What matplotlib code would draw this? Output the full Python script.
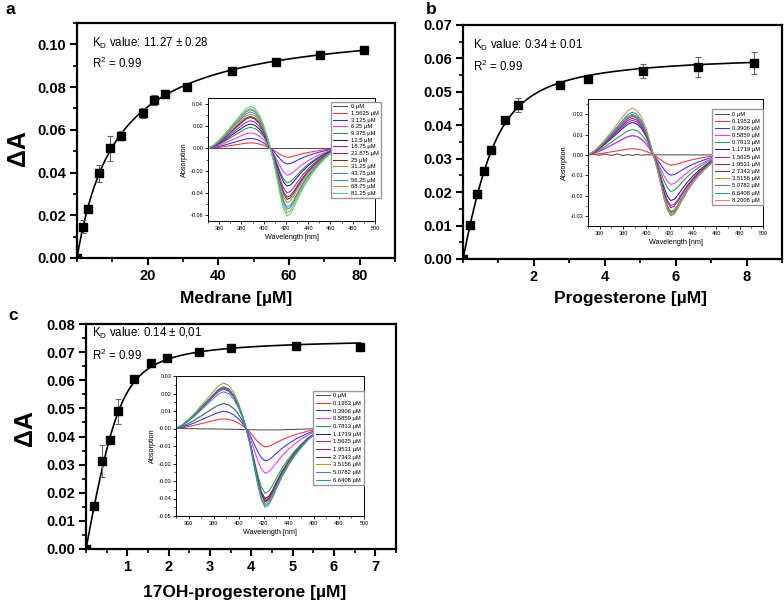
import numpy as np
import matplotlib
matplotlib.use('Agg')
import matplotlib.pyplot as plt
from matplotlib.ticker import MultipleLocator, FormatStrFormatter

plt.rcParams['font.family'] = ['Liberation Sans', 'DejaVu Sans']
plt.rcParams['mathtext.fontset'] = 'custom'
plt.rcParams['mathtext.rm'] = 'Liberation Sans'

W, H = 784, 606

# ---- titration data (delta A vs ligand) ----
conc_a = [0, 1.5625, 3.125, 6.25, 9.375, 12.5, 18.75, 21.875, 25, 31.25, 43.75, 56.25, 68.75, 81.25]
dA_a = [0.0, 0.0147, 0.0228, 0.0396, 0.0513, 0.0572, 0.0679, 0.0739, 0.0768, 0.0801, 0.0875, 0.0919, 0.0952, 0.0972]
err_a = [0, 0.003, 0.0012, 0.0038, 0.006, 0.0022, 0.0025, 0.0025, 0.0012, 0.001, 0.0008, 0.0012, 0.0008, 0.0008]

# spectra were taken at all concentrations, the titration plot skips 1.9531
conc_b = [0, 0.1953, 0.3906, 0.5859, 0.7813, 1.1719, 1.5625, 1.9531, 2.7343, 3.5156, 5.0782, 6.6408, 8.2008]
x_b = [0, 0.1953, 0.3906, 0.5859, 0.7813, 1.1719, 1.5625, 2.7343, 3.5156, 5.0782, 6.6408, 8.2008]
dA_b = [0.0, 0.0101, 0.0195, 0.0263, 0.0326, 0.0416, 0.0461, 0.0521, 0.0537, 0.0562, 0.0573, 0.0586]
err_b = [0, 0.0005, 0.001, 0.001, 0.001, 0.001, 0.002, 0.001, 0.0005, 0.002, 0.003, 0.0033]

conc_c = [0, 0.1953, 0.3906, 0.5859, 0.7813, 1.1719, 1.5625, 1.9531, 2.7343, 3.5156, 5.0782, 6.6408]
dA_c = [0.0, 0.0153, 0.0313, 0.0388, 0.0490, 0.0605, 0.0662, 0.0678, 0.0701, 0.0713, 0.0722, 0.0719]
err_c = [0, 0.0008, 0.0057, 0.0012, 0.0045, 0.001, 0.001, 0.0006, 0.0005, 0.0005, 0.0005, 0.0015]

# fit parameters (tight binding / Morrison)
kd_a, amax_a, enz_a = 11.27, 0.1107, 0.05
kd_b, amax_b, enz_b = 0.34, 0.0615, 0.8
kd_c, amax_c, enz_c = 0.14, 0.075, 0.8

# ---- difference spectra (insets) ----
WL = [350, 355, 360, 365, 370, 375, 380, 384, 388, 392, 396, 400, 403, 406, 409, 412, 415,
      418, 421, 424, 427, 430, 435, 440, 445, 450, 455, 460, 465, 470, 480, 490, 500]
SHAPE = [0, 0.08, 0.2, 0.34, 0.5, 0.66, 0.82, 0.94, 1.0, 0.95, 0.8, 0.55, 0.3, 0.0, -0.2, -0.45, -0.7,
         -0.9, -1.0, -0.97, -0.88, -0.77, -0.6, -0.46, -0.34, -0.24, -0.15, -0.08, -0.04, -0.02, -0.005, 0, 0]

peak_a = [0, 0.005, 0.009, 0.014, 0.019, 0.022, 0.025, 0.028, 0.029, 0.031, 0.033, 0.035, 0.036, 0.038]
trough_a = [0, -0.008, -0.014, -0.024, -0.031, -0.034, -0.040, -0.044, -0.046, -0.049, -0.053, -0.055, -0.058, -0.061]
base0_a = [0] * 33

peak_b = [0, 0.003, 0.0095, 0.0095, 0.0125, 0.016, 0.017, 0.018, 0.019, 0.0195, 0.020, 0.021, 0.023]
trough_b = [0, -0.005, -0.010, -0.0145, -0.018, -0.0225, -0.025, -0.026, -0.028, -0.0285, -0.030, -0.029, -0.0295]
base0_b = [0, 0.0003, -0.0002, 0.0004, -0.0003, 0.0005, -0.0004, 0.0002, -0.0003, 0.0003, -0.0002, 0.0001, 0,
           0, 0, 0, 0, 0, 0, 0, 0, 0, 0, 0, 0, 0, 0, 0, 0, 0, 0, 0, 0]

peak_c = [0, 0.0055, 0.0098, 0.0142, 0.0143, 0.0235, 0.0225, 0.0238, 0.0232, 0.026, 0.021, 0.0235]
trough_c = [0, -0.0105, -0.0185, -0.0255, -0.037, -0.040, -0.041, -0.042, -0.0415, -0.043, -0.044, -0.045]
base0_c = [0, 0, -0.0001, -0.0001, -0.0002, -0.0002, -0.0003, -0.0003, -0.0004, -0.0004, -0.0005, -0.0005,
           -0.0006, -0.0006, -0.0007, -0.0007, -0.0008, -0.0008, -0.0008, -0.0008, -0.0008, -0.0008, -0.0007,
           -0.0006, -0.0005, -0.0004, -0.0003, -0.0002, -0.0001, 0, 0, 0, 0]

COLORS = ['#505050', '#ff3030', '#3030ff', '#ff30ff', '#20a040', '#202090', '#a020e0', '#8a208a',
          '#902828', '#a0a020', '#5080d0', '#20a0a0', '#d09050', '#40e070']


def morrison(s, kd, amax, e):
    t = e + s + kd
    return amax * (t - np.sqrt(t * t - 4 * e * s)) / (2 * e)


def frac(px, py):
    return px / W, 1 - py / H


fig = plt.figure(figsize=(W / 100, H / 100), dpi=100)


def main_panel(box, x, y, err, kd, amax, enz, xlim, ylim, xticks, xminor, ymajor, xlabel_pos, xlabel):
    l, t, r, b = box
    ax = fig.add_axes([l / W, 1 - b / H, (r - l) / W, (b - t) / H])
    xs = np.linspace(0, x[-1], 300)
    ax.plot(xs, morrison(xs, kd, amax, enz), color='black', lw=1.2, zorder=2)
    ax.errorbar(x, y, yerr=err, fmt='none', ecolor='#666666', elinewidth=0.8, capsize=2.5, capthick=0.8, zorder=3)
    ax.plot(x, y, 's', color='black', ms=6, zorder=4)
    ax.set_xlim(*xlim)
    ax.set_ylim(*ylim)
    ax.set_xticks(xticks)
    ax.xaxis.set_minor_locator(MultipleLocator(xminor))
    ax.yaxis.set_major_locator(MultipleLocator(ymajor))
    ax.yaxis.set_minor_locator(MultipleLocator(ymajor / 2))
    ax.yaxis.set_major_formatter(FormatStrFormatter('%.2f'))
    ax.xaxis.set_major_formatter(FormatStrFormatter('%d'))
    for s in ax.spines.values():
        s.set_linewidth(1.6)
    ax.tick_params(which='major', direction='out', length=5, width=1.5, labelsize=10.5, pad=3)
    ax.tick_params(which='minor', direction='out', length=3, width=1.2)
    for lab in ax.get_xticklabels() + ax.get_yticklabels():
        lab.set_fontweight('bold')
    fx, fy = frac(*xlabel_pos)
    fig.text(fx, fy, xlabel, ha='center', va='center', fontsize=12.5, fontweight='bold')
    return ax


def kd_text(px, py, py2, kd_str):
    fx, fy = frac(px, py)
    fig.text(fx, fy, r'K$_\mathregular{D}$ value: ' + kd_str, ha='left', va='center', fontsize=8.3)
    fx, fy = frac(px, py2)
    fig.text(fx, fy, r'R$^\mathregular{2}$ = 0.99', ha='left', va='center', fontsize=8.3)


def inset(box, conc, peaks, troughs, base0, ylim, ymajor, leg_anchor, spacing):
    l, t, r, b = box
    ins = fig.add_axes([l / W, 1 - b / H, (r - l) / W, (b - t) / H])
    shape = np.array(SHAPE)
    pos = np.clip(shape, 0, None)
    neg = np.clip(shape, None, 0)
    for i, c in enumerate(conc):
        if i == 0:
            yv = np.array(base0)
        else:
            yv = pos * peaks[i] - neg * troughs[i]
        ins.plot(WL, yv, color=COLORS[i], lw=0.75, label='%g µM' % c)
    ins.set_xlim(350, 500)
    ins.set_ylim(*ylim)
    ins.xaxis.set_minor_locator(MultipleLocator(10))
    ins.yaxis.set_major_locator(MultipleLocator(ymajor))
    ins.yaxis.set_minor_locator(MultipleLocator(ymajor / 2))
    ins.yaxis.set_major_formatter(FormatStrFormatter('%.2f'))
    ins.set_xticks([360, 380, 400, 420, 440, 460, 480, 500])
    ins.tick_params(which='major', direction='out', length=2, width=0.6, labelsize=4, pad=1.5)
    ins.tick_params(which='minor', direction='out', length=1.2, width=0.5)
    for s in ins.spines.values():
        s.set_linewidth(0.7)
    ins.set_xlabel('Wavelength [nm]', fontsize=5.2, labelpad=2)
    ins.set_ylabel('Absorption', fontsize=5.2, labelpad=2)
    ins.legend(loc='upper left', bbox_to_anchor=leg_anchor, fontsize=4.2, frameon=True, fancybox=False,
               edgecolor='#999999', framealpha=1, borderpad=0.4, labelspacing=spacing,
               handlelength=2.4, handletextpad=0.6, borderaxespad=0)
    return ins


# panel a
ax_a = main_panel((77, 23, 395, 258), conc_a, dA_a, err_a, kd_a, amax_a, enz_a, (0, 90), (0, 0.11),
                  [20, 40, 60, 80], 10, 0.02, (236, 298), 'Medrane [µM]')
kd_text(92, 43, 63, '11.27 ± 0.28')
inset((208, 98, 375, 221), conc_a, peak_a, trough_a, base0_a, (-0.0655, 0.0455), 0.02, (0.737, 0.967), 0.27)

# panel b
ax_b = main_panel((463, 25, 782, 259), x_b, dA_b, err_b, kd_b, amax_b, enz_b, (0, 9), (0, 0.07),
                  [2, 4, 6, 8], 1, 0.01, (630, 298), 'Progesterone [µM]')
kd_text(473, 45, 66, '0.34 ± 0.01')
inset((588, 99, 763, 226), conc_b, peak_b, trough_b, base0_b, (-0.035, 0.0275), 0.01, (0.71, 0.92), 0.36)

# panel c
ax_c = main_panel((86, 324, 396, 549), conc_c, dA_c, err_c, kd_c, amax_c, enz_c, (0, 7.5), (0, 0.08),
                  [1, 2, 3, 4, 5, 6, 7], 0.5, 0.01, (245, 593), '17OH-progesterone [µM]')
kd_text(92, 333, 355, '0.14 ± 0,01')
inset((176, 376, 364, 516), conc_c, peak_c, trough_c, base0_c, (-0.05, 0.03), 0.01, (0.73, 0.895), 0.45)

# axis titles and panel letters
for (px, py) in [(18, 148), (25, 428)]:
    fx, fy = frac(px, py)
    fig.text(fx, fy, 'ΔA', rotation=90, ha='center', va='center', fontsize=18, fontweight='bold')
for letter, (px, py) in zip('abc', [(10, 9), (431, 9), (13, 316)]):
    fx, fy = frac(px, py)
    fig.text(fx, fy, letter, ha='center', va='center', fontsize=12.5, fontweight='bold')

fig.savefig('out.png', dpi=100)
